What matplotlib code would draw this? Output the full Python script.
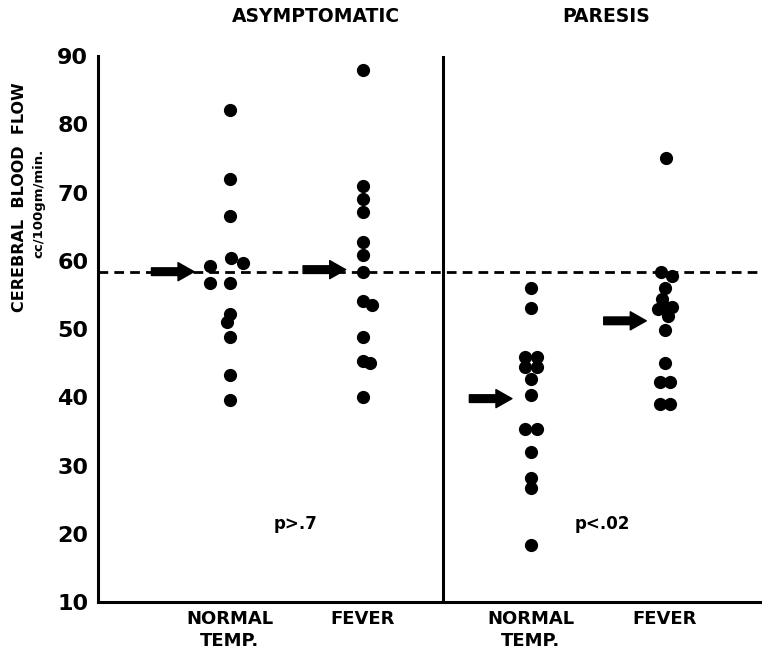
import matplotlib.pyplot as plt

# valores (cc/100gm/min)
groups = ['NORMAL\nTEMP.', 'FEVER', 'NORMAL\nTEMP.', 'FEVER']
panel_titles = ['ASYMPTOMATIC', 'PARESIS']
p_values = ['p>.7', 'p<.02']

asym_normal = [82.1, 72.0, 66.6, 60.4, 59.6, 59.2, 56.8, 56.8, 52.2, 51.0, 48.9, 43.2, 39.6]
asym_fever = [88.0, 71.0, 69.1, 67.1, 62.7, 60.9, 58.4, 54.1, 53.5, 48.9, 45.3, 45.0, 40.1]
paresis_normal = [56.0, 53.1, 45.9, 45.9, 44.4, 44.4, 42.7, 40.3, 35.3, 35.3, 32.0, 28.2, 26.7, 18.4]
paresis_fever = [75.1, 58.3, 57.7, 56.0, 54.4, 53.2, 52.9, 53.2, 51.9, 49.9, 45.0, 42.2, 42.2, 39.0, 39.0]

# deslocamento lateral dos pontos sobrepostos
asym_normal_dx = [0, 0, 0, 0.01, 0.1, -0.15, -0.15, 0, 0, -0.02, 0, 0, 0]
asym_fever_dx = [0, 0, 0, 0, 0, 0, 0, 0, 0.07, 0, 0, 0.05, 0]
paresis_normal_dx = [0, 0, -0.04, 0.05, -0.04, 0.05, 0, 0, -0.04, 0.05, 0, 0, 0, 0]
paresis_fever_dx = [0.01, -0.03, 0.05, 0, -0.02, 0, -0.05, 0.05, 0.02, 0, 0, -0.04, 0.04, -0.04, 0.04]

group_means = [58.4, 58.7, 39.8, 51.2]
normal_flow = 58.4

series = [asym_normal, asym_fever, paresis_normal, paresis_fever]
offsets = [asym_normal_dx, asym_fever_dx, paresis_normal_dx, paresis_fever_dx]
positions = [1, 2, 3.26, 4.27]

fig = plt.figure(figsize=(7.62, 6.55), dpi=100)
ax = fig.add_axes([0.1286, 0.0809, 0.8714, 0.8336])

for x, vals, dx in zip(positions, series, offsets):
    ax.plot([x + d for d in dx], vals, 'o', color='black', markersize=9.5, markeredgewidth=0)

# linha tracejada do valor normal
ax.axhline(normal_flow, color='black', lw=2, dashes=(3.5, 2.2))

# setas das medias
arrow_gap = [0.27, 0.13, 0.14, 0.14]
for x, m, g in zip(positions, group_means, arrow_gap):
    ax.annotate('', xy=(x - g, m), xytext=(x - g - 0.32, m),
                arrowprops=dict(arrowstyle='simple,head_length=1.15,head_width=1.3,tail_width=0.55',
                                mutation_scale=10, color='black', shrinkA=0, shrinkB=0))

# divisoria entre os paineis
ax.axvline(2.6, color='black', lw=2.2)

ax.set_xlim(0.008, 5.0)
ax.set_ylim(10, 90)
ax.spines['top'].set_visible(False)
ax.spines['right'].set_visible(False)
ax.spines['left'].set_linewidth(2.2)
ax.spines['bottom'].set_linewidth(2.2)

ax.set_yticks(range(10, 91, 10))
ax.tick_params(axis='y', length=0, pad=7, labelsize=16)
for lab in ax.get_yticklabels():
    lab.set_fontweight('bold')
ax.set_xticks(positions)
ax.set_xticklabels(groups, fontsize=13, fontweight='bold', linespacing=1.25)
ax.tick_params(axis='x', length=0, pad=6)

ax.text(1.49, 21.4, p_values[0], ha='center', va='center', fontsize=12, fontweight='bold')
ax.text(3.80, 21.4, p_values[1], ha='center', va='center', fontsize=12, fontweight='bold')

fig.text(316 / 762, 1 - 16 / 655, panel_titles[0], ha='center', va='center', fontsize=13.5, fontweight='bold')
fig.text(606 / 762, 1 - 16 / 655, panel_titles[1], ha='center', va='center', fontsize=13.5, fontweight='bold')

fig.text(20 / 762, 1 - 197 / 655, 'CEREBRAL  BLOOD  FLOW', rotation=90, ha='center', va='center',
         fontsize=11.5, fontweight='bold')
fig.text(39 / 762, 1 - 203 / 655, 'cc/100gm/min.', rotation=90, ha='center', va='center',
         fontsize=9.5, fontweight='bold')

plt.savefig('out.png', dpi=100)
